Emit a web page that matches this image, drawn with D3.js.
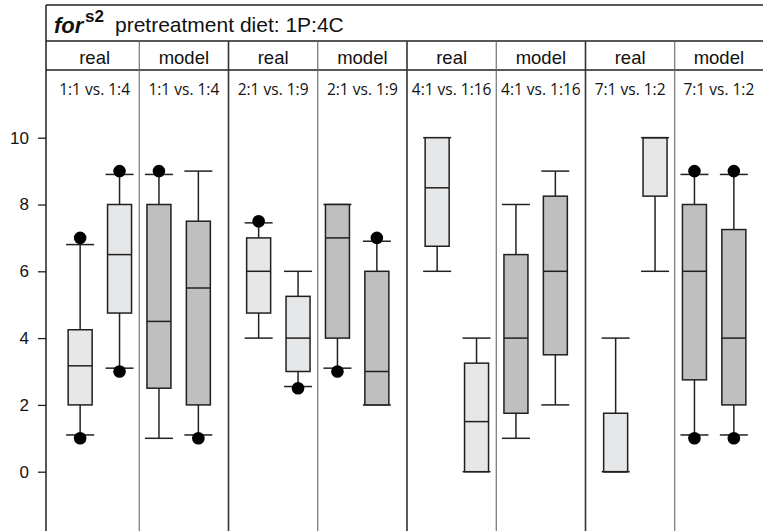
<!DOCTYPE html>
<html><head><meta charset="utf-8">
<script src="https://cdn.jsdelivr.net/npm/d3@7"></script>
<style>body{margin:0;background:#fff}</style>
</head><body>
<svg id="chart" width="763" height="531"></svg>
<script>
// ---- data ----
const groupNames = ["1:1 vs. 1:4", "2:1 vs. 1:9", "4:1 vs. 1:16", "7:1 vs. 1:2"];
const sourceNames = ["real", "model"];
const boxSource  = ["real","real","model","model"]; // per box within a group
const yTicks = [0, 2, 4, 6, 8, 10];
// 16 boxes: for each group -> real(a), real(b), model(a), model(b)
const whiskerLow  = [1.1, 3.1, 1.0, 1.1,   4.0, 2.55, 3.1, 2.0,   6.0, 0, 1.0, 2.0,    0, 6.0, 1.1, 1.1];
const q1          = [2, 4.75, 2.5, 2,      4.75, 3, 4, 2,         6.75, 0, 1.75, 3.5,  0, 8.25, 2.75, 2];
const median      = [3.17, 6.5, 4.5, 5.5,  6, 4, 7, 3,            8.5, 1.5, 4, 6,      0, 10, 6, 4];
const q3          = [4.25, 8, 8, 7.5,      7, 5.25, 8, 6,         10, 3.25, 6.5, 8.25, 1.75, 10, 8, 7.25];
const whiskerHigh = [6.8, 8.9, 8.9, 9,     7.45, 6, 8, 6.9,       10, 4, 8, 9,         4, 10, 8.9, 8.9];
const outliers    = [[1,7],[3,9],[9],[1],  [7.5],[2.5],[3],[7],   [],[],[],[],         [],[],[1,9],[1,9]];

// ---- layout ----
const W = 763, H = 531;
const frameLeft = 46, frameTop = 5, titleBottom = 41, headBottom = 70;
const svg = d3.select("#chart");
const stroke = "#231f20";

const xGroup = d3.scaleBand().domain(groupNames).range([50, 764]);
const xBox = d3.scalePoint().domain(d3.range(4)).range([0, xGroup.bandwidth()]).padding(0.765);
const y = d3.scaleLinear().domain([0, 10]).range([471.7, 137.7]);
const boxW = 24, capW = 28;

const boxes = [];
groupNames.forEach((g, gi) => {
  for (let i = 0; i < 4; i++) {
    const k = gi * 4 + i;
    boxes.push({g, i, src: boxSource[i], lo: whiskerLow[k], q1: q1[k], med: median[k], q3: q3[k], hi: whiskerHigh[k], out: outliers[k]});
  }
});
const cx = d => xGroup(d.g) + xBox(d.i);

// ---- table frame ----
const lines = svg.append("g");
lines.append("line").attr("x1", frameLeft).attr("x2", W).attr("y1", frameTop).attr("y2", frameTop).attr("stroke", stroke).attr("stroke-width", 1.5);
[titleBottom, headBottom].forEach(yy =>
  lines.append("line").attr("x1", frameLeft).attr("x2", W).attr("y1", yy).attr("y2", yy).attr("stroke", stroke).attr("stroke-width", 1.3));
lines.append("line").attr("x1", frameLeft).attr("x2", frameLeft).attr("y1", frameTop).attr("y2", H).attr("stroke", stroke).attr("stroke-width", 1.5);
// group separators (thick)
groupNames.slice(1).forEach(g =>
  lines.append("line").attr("x1", xGroup(g)).attr("x2", xGroup(g)).attr("y1", titleBottom).attr("y2", H).attr("stroke", "#333").attr("stroke-width", 1.6));
// real/model separators (thin)
groupNames.forEach(g => {
  const xm = xGroup(g) + xGroup.bandwidth() / 2;
  lines.append("line").attr("x1", xm).attr("x2", xm).attr("y1", titleBottom).attr("y2", H).attr("stroke", "#666").attr("stroke-width", 1.1);
});

// ---- title ----
const tf = "Liberation Sans, Arial, sans-serif";
svg.append("text").attr("x", 54).attr("y", 33).attr("font-family", tf).attr("font-size", 22)
  .attr("font-weight", "bold").attr("font-style", "italic").attr("fill", "#111").text("for");
svg.append("text").attr("x", 85).attr("y", 22).attr("font-family", tf).attr("font-size", 17)
  .attr("font-weight", "bold").attr("fill", "#111").text("s2");
svg.append("text").attr("x", 115).attr("y", 32).attr("font-family", tf).attr("font-size", 21)
  .attr("fill", "#111").text("pretreatment diet: 1P:4C");

// ---- header cells ----
groupNames.forEach(g => {
  sourceNames.forEach((s, si) => {
    const left = si === 0 ? Math.max(frameLeft, xGroup(g)) : xGroup(g) + xGroup.bandwidth() / 2;
    const right = si === 0 ? xGroup(g) + xGroup.bandwidth() / 2 : xGroup(g) + xGroup.bandwidth();
    const c = (left + Math.min(right, W)) / 2;
    svg.append("text").attr("x", c).attr("y", 64).attr("text-anchor", "middle")
      .attr("font-family", tf).attr("font-size", 18.5).attr("fill", "#111").text(s);
    svg.append("text").attr("x", c).attr("y", 95).attr("text-anchor", "middle")
      .attr("font-family", "Open Sans, sans-serif").attr("font-size", 15.5).attr("fill", "#111").text(g);
  });
});

// ---- y axis ----
const ax = svg.append("g").attr("transform", `translate(${frameLeft},0)`)
  .call(d3.axisLeft(y).tickValues(yTicks).tickSize(8).tickPadding(9));
ax.select(".domain").remove();
ax.selectAll(".tick line").attr("stroke", stroke).attr("stroke-width", 1.3);
ax.selectAll(".tick text").attr("font-family", tf).attr("font-size", 17).attr("fill", "#111");

// ---- boxes ----
const bg = svg.append("g").selectAll("g").data(boxes).join("g");
bg.append("line").attr("x1", cx).attr("x2", cx).attr("y1", d => y(d.lo)).attr("y2", d => y(d.q1)).attr("stroke", "#222").attr("stroke-width", 1.5);
bg.append("line").attr("x1", cx).attr("x2", cx).attr("y1", d => y(d.q3)).attr("y2", d => y(d.hi)).attr("stroke", "#222").attr("stroke-width", 1.5);
bg.append("line").attr("x1", d => cx(d) - capW/2).attr("x2", d => cx(d) + capW/2).attr("y1", d => y(d.lo)).attr("y2", d => y(d.lo)).attr("stroke", "#222").attr("stroke-width", 1.5);
bg.append("line").attr("x1", d => cx(d) - capW/2).attr("x2", d => cx(d) + capW/2).attr("y1", d => y(d.hi)).attr("y2", d => y(d.hi)).attr("stroke", "#222").attr("stroke-width", 1.5);
bg.append("rect").attr("x", d => cx(d) - boxW/2).attr("width", boxW)
  .attr("y", d => y(d.q3)).attr("height", d => Math.max(0, y(d.q1) - y(d.q3)))
  .attr("fill", d => d.src === "real" ? "#e6e7e8" : "#bfbfbf").attr("stroke", stroke).attr("stroke-width", 1.5);
bg.append("line").attr("x1", d => cx(d) - boxW/2).attr("x2", d => cx(d) + boxW/2).attr("y1", d => y(d.med)).attr("y2", d => y(d.med)).attr("stroke", stroke).attr("stroke-width", 1.5);
bg.selectAll("circle").data(d => d.out.map(v => ({v, x: cx(d)}))).join("circle")
  .attr("cx", d => d.x).attr("cy", d => y(d.v)).attr("r", 6.3).attr("fill", "#000");
</script>
</body></html>
